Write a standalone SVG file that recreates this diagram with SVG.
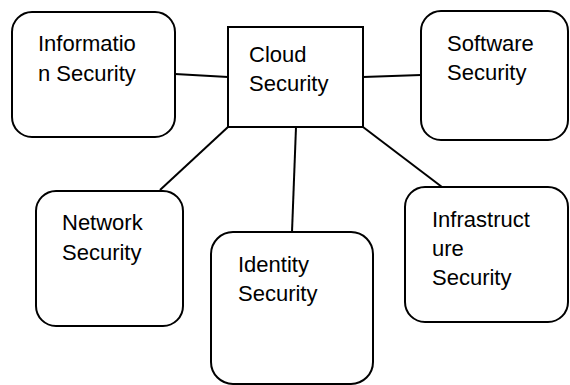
<svg xmlns="http://www.w3.org/2000/svg" width="570" height="385" viewBox="0 0 570 385">
<style>
.box{fill:#fff;stroke:#000;stroke-width:2}
.lbl{font-family:"Liberation Sans",Arial,sans-serif;font-size:22px;fill:#000}
.conn line{stroke:#000;stroke-width:2}
</style>
<rect width="570" height="385" fill="#fff"/>
<g id="connectors" class="conn">
<line x1="175" y1="74" x2="228" y2="77"/>
<line x1="363" y1="77" x2="421" y2="75"/>
<line x1="228" y1="127" x2="160" y2="190"/>
<line x1="296" y1="127" x2="292" y2="232"/>
<line x1="363" y1="127" x2="442" y2="187"/>
</g>
<g id="information">
<rect class="box" x="12" y="12" width="163" height="125" rx="20"/>
<text class="lbl" x="38" y="51">Informatio</text>
<text class="lbl" x="38" y="81">n Security</text>
</g>
<g id="cloud">
<rect class="box" x="228" y="27" width="135" height="100"/>
<text class="lbl" x="249" y="62">Cloud</text>
<text class="lbl" x="249" y="91">Security</text>
</g>
<g id="software">
<rect class="box" x="421" y="11" width="147" height="129" rx="20"/>
<text class="lbl" x="447" y="51">Software</text>
<text class="lbl" x="447" y="80">Security</text>
</g>
<g id="network">
<rect class="box" x="36" y="191" width="147" height="135" rx="20"/>
<text class="lbl" x="62" y="230">Network</text>
<text class="lbl" x="62" y="260">Security</text>
</g>
<g id="identity">
<rect class="box" x="211" y="232" width="162" height="152" rx="22"/>
<text class="lbl" x="238" y="272">Identity</text>
<text class="lbl" x="238" y="301">Security</text>
</g>
<g id="infrastructure">
<rect class="box" x="405" y="187" width="163" height="135" rx="20"/>
<text class="lbl" x="432" y="227">Infrastruct</text>
<text class="lbl" x="432" y="256">ure</text>
<text class="lbl" x="432" y="285">Security</text>
</g>
</svg>
